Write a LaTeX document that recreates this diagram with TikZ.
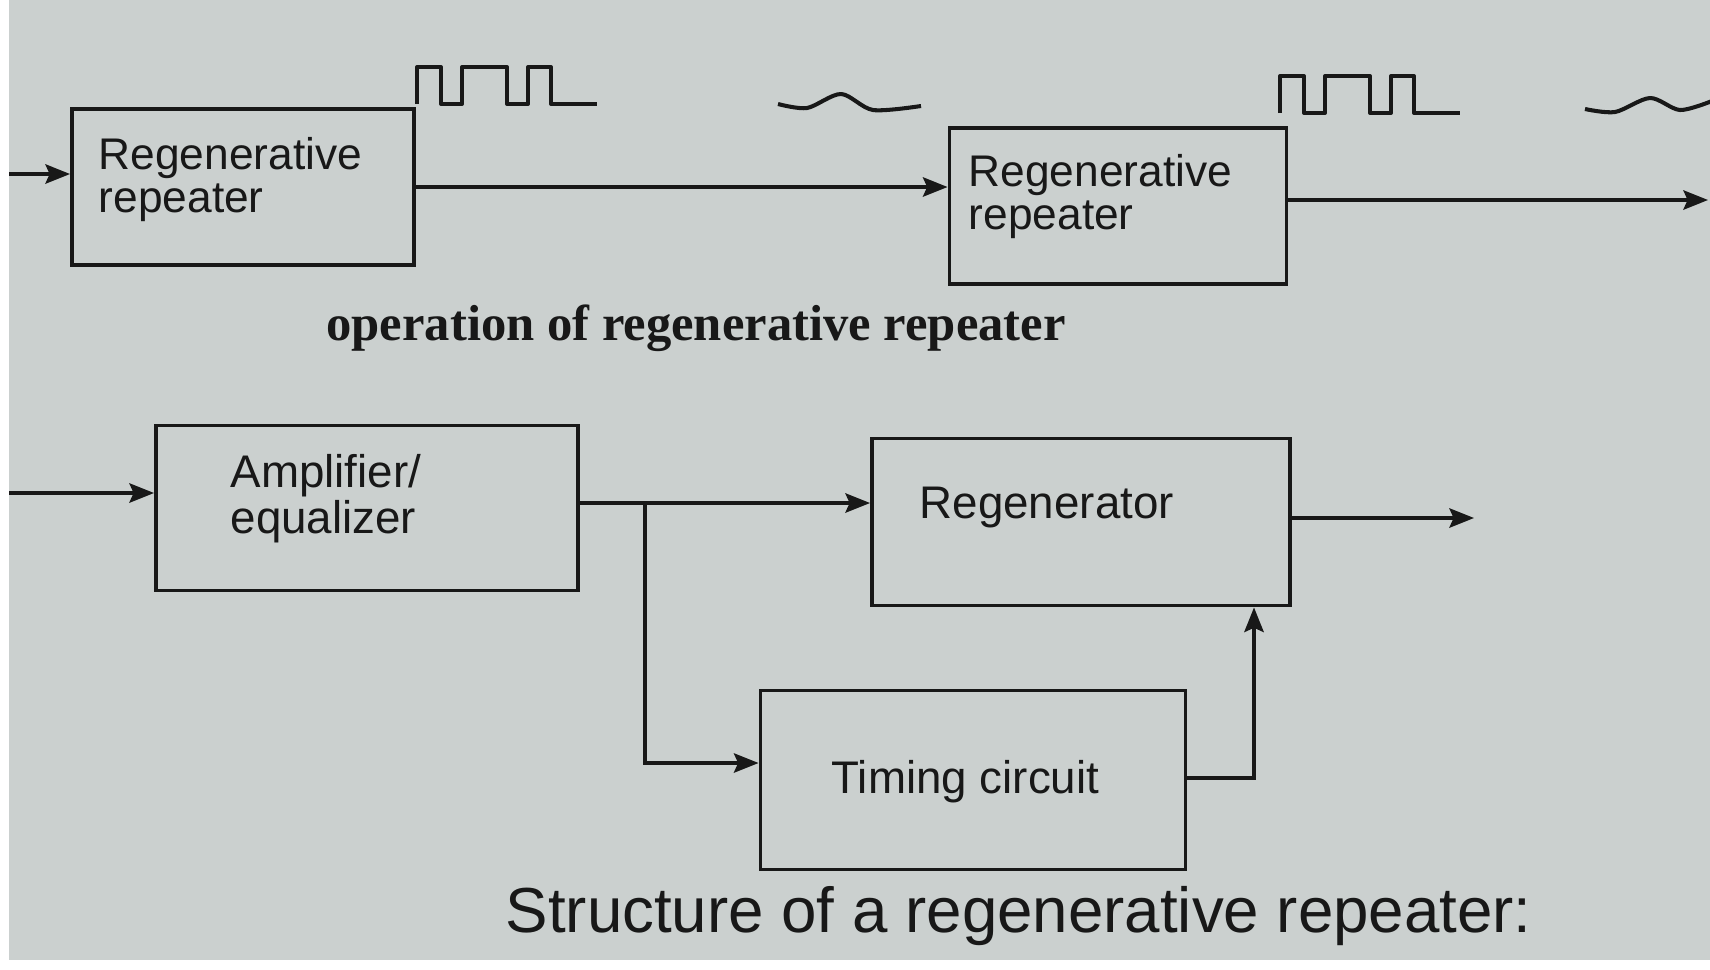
\documentclass[tikz,border=0pt]{standalone}
\usepackage{fontspec}
\setmainfont{Liberation Serif}
\setsansfont{Liberation Sans}
\usetikzlibrary{arrows.meta,positioning}
\definecolor{paper}{HTML}{CBD0CF}
\definecolor{ink}{HTML}{181818}

\begin{document}
\begin{tikzpicture}[x=0.01cm, y=-0.01cm,
    blk/.style={draw=ink, line width=1.05pt, inner sep=0pt},
    wire/.style={ink, line width=1pt},
    arr/.style={wire, -{Stealth[length=7pt,width=5.5pt,inset=1.2pt]}},
    wave/.style={ink, line width=1.15pt, line join=round},
    toptxt/.style={ink, inner sep=0pt, anchor=north west, align=left,
      font=\sffamily\fontsize{12.6}{12.2}\selectfont},
    bottxt/.style={ink, inner sep=0pt, anchor=north west, align=left,
      font=\sffamily\fontsize{13}{11.7}\selectfont}]
  \useasboundingbox (0,0) rectangle (1710,969);
  \fill[white] (0,0) rectangle (1710,969);
  \fill[paper] (9,0) rectangle (1710,960);

  % operation of regenerative repeater
  \node[blk, minimum width=3.42cm, minimum height=1.56cm] (rep1) at (243,187) {};
  \node[blk, minimum width=3.37cm, minimum height=1.56cm] (rep2) at (1118,206) {};
  \node[toptxt] (rep1txt) at (98,137) {Regenerative\\repeater};
  \node[toptxt] (rep2txt) at (968,154) {Regenerative\\repeater};

  \coordinate (in1) at (9,174);
  \coordinate (out1) at (1708,200);
  \draw[arr] (in1) -- (in1 -| rep1.west);
  \draw[arr] (rep1.east) -- (rep1.east -| rep2.west);
  \draw[arr] (out1 -| rep2.east) -- (out1);

  % pulses and distorted pulses
  \foreach \wx/\wy in {417/104,1280/113}
    \draw[wave] (\wx,\wy) -- ++(0,-37) -- ++(24,0) -- ++(0,37) -- ++(21,0)
      -- ++(0,-37) -- ++(45,0) -- ++(0,37) -- ++(21,0) -- ++(0,-37)
      -- ++(23,0) -- ++(0,37) -- ++(46,0);
  \draw[wave] plot[smooth] coordinates {(778,104) (807,108) (841,94) (873,110) (921,106)};
  \draw[wave] plot[smooth] coordinates {(1585,109) (1615,112) (1650,98) (1680,110) (1712,101)};

  \node[ink, anchor=base, inner sep=0pt,
    font=\rmfamily\bfseries\fontsize{14.4}{17}\selectfont] (cap1) at (696,340)
    {operation of regenerative repeater};

  % structure
  \node[blk, minimum width=4.22cm, minimum height=1.65cm] (amp) at (367,508) {};
  \node[blk, minimum width=4.18cm, minimum height=1.67cm] (regen) at (1081,522) {};
  \node[blk, minimum width=4.25cm, minimum height=1.79cm] (timing) at (973,780) {};
  \node[bottxt] (amptxt) at (230,454) {Amplifier/\\equalizer};
  \node[bottxt] (regentxt) at (919,486) {Regenerator};
  \node[bottxt] (timingtxt) at (831,760) {Timing circuit};

  \coordinate (in2) at (9,493);
  \coordinate (split) at (645,503);
  \coordinate (turn) at (645,763);
  \coordinate (up) at (1254,778);
  \coordinate (out2) at (1474,518);
  \draw[arr] (in2) -- (in2 -| amp.west);
  \draw[arr] (amp.east |- split) -- (split) -- (split -| regen.west);
  \draw[arr] (split) -- (turn) -- (turn -| timing.west);
  \draw[arr] (up -| timing.east) -- (up) -- (up |- regen.south);
  \draw[arr] (out2 -| regen.east) -- (out2);

  \node[ink, anchor=base west, inner sep=0pt,
    font=\sffamily\fontsize{18.1}{21}\selectfont] (cap2) at (505,932)
    {Structure of a regenerative repeater:};
\end{tikzpicture}
\end{document}
